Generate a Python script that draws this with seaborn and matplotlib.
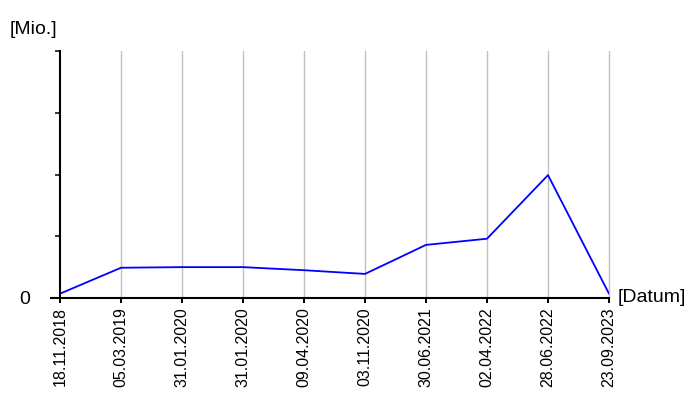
import numpy as np
import matplotlib
matplotlib.use("Agg")
import matplotlib.pyplot as plt
import seaborn as sns

# Data
dates = ["18.11.2018", "05.03.2019", "31.01.2020", "31.01.2020", "09.04.2020",
         "03.11.2020", "30.06.2021", "02.04.2022", "28.06.2022", "23.09.2023"]
values = [0.07, 0.49, 0.50, 0.50, 0.45, 0.39, 0.86, 0.96, 1.99, 0.07]
y_max = 4

sns.set_style("white", {"text.color": "black", "xtick.color": "black",
                        "ytick.color": "black", "axes.labelcolor": "black"})
plt.rcParams['font.family'] = ['Liberation Sans', 'DejaVu Sans']

fig = plt.figure(figsize=(7, 4), dpi=100)
ax = fig.add_axes([60 / 700, 102 / 400, 549 / 700, 247 / 400])

x = np.arange(len(dates))
ax.grid(False)
for xi in x[1:]:
    ax.axvline(xi, color="#c0c0c0", lw=1, zorder=0, clip_on=False)

sns.lineplot(x=x, y=values, ax=ax, color="#0000ff", lw=1.3)

ax.set_xlim(0, len(dates) - 1)
ax.set_ylim(0, y_max)
ax.set_xticks(x)
ax.set_xticklabels(dates, rotation=90, fontsize=11.5)
ax.tick_params(axis="x", direction="out", length=3.6, width=1.4, color="black",
               bottom=True, pad=3)

ax.set_yticks([0])
ax.set_yticklabels(["0"], fontsize=14)
ax.set_yticks(np.arange(1, y_max + 1), minor=True)
ax.tick_params(axis="y", which="major", direction="out", length=7.2, width=1.5,
               color="black", left=True, pad=14.4)
ax.tick_params(axis="y", which="minor", direction="out", length=3.6, width=1.1,
               color="black", left=True)

for side in ["top", "right"]:
    ax.spines[side].set_visible(False)
for side in ["left", "bottom"]:
    ax.spines[side].set_color("black")
    ax.spines[side].set_linewidth(1.5)

fig.text(10 / 700, 1 - 29 / 400, "[Mio.]", fontsize=14, va="center", ha="left")
fig.text(618 / 700, 1 - 298 / 400, "[Datum]", fontsize=14, va="center", ha="left")

fig.savefig("out.png", dpi=100)
